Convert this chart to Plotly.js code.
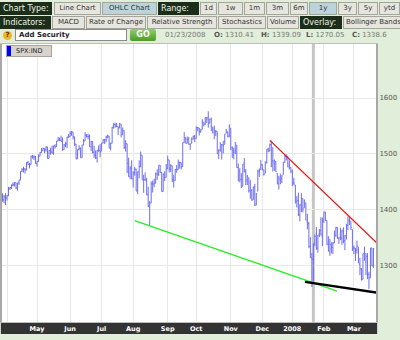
<!DOCTYPE html>
<html><head><meta charset="utf-8">
<script src="https://cdn.plot.ly/plotly-3.0.1.min.js"></script>
<style>
body{margin:0;width:400px;height:340px;overflow:hidden;position:relative;background:#e1eed9;font-family:'DejaVu Sans',sans-serif}
#chart{position:absolute;left:0;top:0;width:400px;height:340px}
.lab{position:absolute;height:13px;line-height:13px;background:#1c2e1a;color:#eef4e6;font-size:8px;padding-left:3px;box-sizing:border-box;white-space:nowrap;overflow:hidden}
.btn{position:absolute;height:13px;line-height:11px;background:#e6e6df;border:1px solid #a4a49c;color:#333;font-size:7px;text-align:center;box-sizing:border-box;white-space:nowrap;overflow:hidden}
.sel{background:#bcd3da}
.r1{top:2px}.r2{top:16px}
.info{position:absolute;top:31px;font-size:7px;color:#777;white-space:nowrap}
.info b{color:#555}
</style></head>
<body>
<div id="chart"></div>
<div class="lab r1" style="left:0;width:52px">Chart Type:</div>
<div class="btn r1" style="left:54px;width:47px">Line Chart</div>
<div class="btn r1 sel" style="left:102px;width:55px">OHLC Chart</div>
<div class="lab r1" style="left:158px;width:41px">Range:</div>
<div class="btn r1" style="left:200px;width:17px">1d</div>
<div class="btn r1" style="left:218px;width:25px">1w</div>
<div class="btn r1" style="left:244px;width:21px">1m</div>
<div class="btn r1" style="left:266px;width:23px">3m</div>
<div class="btn r1" style="left:290px;width:18px">6m</div>
<div class="btn r1 sel" style="left:309px;width:28px">1y</div>
<div class="btn r1" style="left:338px;width:19px">3y</div>
<div class="btn r1" style="left:358px;width:20px">5y</div>
<div class="btn r1" style="left:379px;width:21px">ytd</div>
<div class="lab r2" style="left:0;width:51px">Indicators:</div>
<div class="btn r2" style="left:52px;width:33px">MACD</div>
<div class="btn r2" style="left:86px;width:60px">Rate of Change</div>
<div class="btn r2" style="left:147px;width:70px">Relative Strength</div>
<div class="btn r2" style="left:218px;width:48px">Stochastics</div>
<div class="btn r2" style="left:267px;width:32px">Volume</div>
<div class="lab r2" style="left:300px;width:42px">Overlay:</div>
<div class="btn r2" style="left:343px;width:62px;text-align:left;padding-left:2px">Bollinger Bands</div>
<div style="position:absolute;left:3px;top:31px;width:9px;height:9px;border-radius:50%;background:#f0b428;color:#553300;font-size:7px;font-weight:bold;line-height:9px;text-align:center">?</div>
<div style="position:absolute;left:15px;top:29px;width:112px;height:12px;background:#fff;border:1px solid #8c8c8c;box-sizing:border-box;font-size:7px;font-weight:bold;color:#222;line-height:10px;padding-left:3px">Add Security</div>
<div style="position:absolute;left:130px;top:29px;width:26px;height:12px;background:linear-gradient(#8fd066,#4c9a2c);border-radius:2px;color:#fff;font-size:8px;font-weight:bold;line-height:12px;text-align:center">GO</div>
<div class="info" style="left:165px">01/23/2008</div>
<div class="info" style="left:214px"><b>O:</b> 1310.41</div>
<div class="info" style="left:261px"><b>H:</b> 1339.09</div>
<div class="info" style="left:306px"><b>L:</b> 1270.05</div>
<div class="info" style="left:352px"><b>C:</b> 1338.6</div>
<div style="position:absolute;left:6px;top:45px;width:46px;height:12px;background:#d8d4cc;border:1px solid #a8a49c;box-sizing:border-box"></div>
<div style="position:absolute;left:7px;top:46px;width:4px;height:10px;background:#0000ff"></div>
<div style="position:absolute;left:16px;top:47px;font-size:6.5px;color:#222;line-height:8px">SPX:IND</div>
<script>
const dates = [
"2007-03-27","2007-03-28","2007-03-29","2007-03-30",
"2007-04-02","2007-04-03","2007-04-04","2007-04-05","2007-04-09","2007-04-10","2007-04-11","2007-04-12","2007-04-13","2007-04-16","2007-04-17","2007-04-18","2007-04-19","2007-04-20","2007-04-23","2007-04-24","2007-04-25","2007-04-26","2007-04-27","2007-04-30",
"2007-05-01","2007-05-02","2007-05-03","2007-05-04","2007-05-07","2007-05-08","2007-05-09","2007-05-10","2007-05-11","2007-05-14","2007-05-15","2007-05-16","2007-05-17","2007-05-18","2007-05-21","2007-05-22","2007-05-23","2007-05-24","2007-05-25","2007-05-29","2007-05-30","2007-05-31",
"2007-06-01","2007-06-04","2007-06-05","2007-06-06","2007-06-07","2007-06-08","2007-06-11","2007-06-12","2007-06-13","2007-06-14","2007-06-15","2007-06-18","2007-06-19","2007-06-20","2007-06-21","2007-06-22","2007-06-25","2007-06-26","2007-06-27","2007-06-28","2007-06-29",
"2007-07-02","2007-07-03","2007-07-05","2007-07-06","2007-07-09","2007-07-10","2007-07-11","2007-07-12","2007-07-13","2007-07-16","2007-07-17","2007-07-18","2007-07-19","2007-07-20","2007-07-23","2007-07-24","2007-07-25","2007-07-26","2007-07-27","2007-07-30","2007-07-31",
"2007-08-01","2007-08-02","2007-08-03","2007-08-06","2007-08-07","2007-08-08","2007-08-09","2007-08-10","2007-08-13","2007-08-14","2007-08-15","2007-08-16","2007-08-17","2007-08-20","2007-08-21","2007-08-22","2007-08-23","2007-08-24","2007-08-27","2007-08-28","2007-08-29","2007-08-30","2007-08-31",
"2007-09-04","2007-09-05","2007-09-06","2007-09-07","2007-09-10","2007-09-11","2007-09-12","2007-09-13","2007-09-14","2007-09-17","2007-09-18","2007-09-19","2007-09-20","2007-09-21","2007-09-24","2007-09-25","2007-09-26","2007-09-27","2007-09-28",
"2007-10-01","2007-10-02","2007-10-03","2007-10-04","2007-10-05","2007-10-08","2007-10-09","2007-10-10","2007-10-11","2007-10-12","2007-10-15","2007-10-16","2007-10-17","2007-10-18","2007-10-19","2007-10-22","2007-10-23","2007-10-24","2007-10-25","2007-10-26","2007-10-29","2007-10-30","2007-10-31",
"2007-11-01","2007-11-02","2007-11-05","2007-11-06","2007-11-07","2007-11-08","2007-11-09","2007-11-12","2007-11-13","2007-11-14","2007-11-15","2007-11-16","2007-11-19","2007-11-20","2007-11-21","2007-11-23","2007-11-26","2007-11-27","2007-11-28","2007-11-29","2007-11-30",
"2007-12-03","2007-12-04","2007-12-05","2007-12-06","2007-12-07","2007-12-10","2007-12-11","2007-12-12","2007-12-13","2007-12-14","2007-12-17","2007-12-18","2007-12-19","2007-12-20","2007-12-21","2007-12-24","2007-12-26","2007-12-27","2007-12-28","2007-12-31",
"2008-01-02","2008-01-03","2008-01-04","2008-01-07","2008-01-08","2008-01-09","2008-01-10","2008-01-11","2008-01-14","2008-01-15","2008-01-16","2008-01-17","2008-01-18","2008-01-22","2008-01-23","2008-01-24","2008-01-25","2008-01-28","2008-01-29","2008-01-30","2008-01-31",
"2008-02-01","2008-02-04","2008-02-05","2008-02-06","2008-02-07","2008-02-08","2008-02-11","2008-02-12","2008-02-13","2008-02-14","2008-02-15","2008-02-19","2008-02-20","2008-02-21","2008-02-22","2008-02-25","2008-02-26","2008-02-27","2008-02-28","2008-02-29",
"2008-03-03","2008-03-04","2008-03-05","2008-03-06","2008-03-07","2008-03-10","2008-03-11","2008-03-12","2008-03-13","2008-03-14","2008-03-17","2008-03-18","2008-03-19","2008-03-20"
];
const open = [
1437.5,1428.8,1417.2,1422.5,
1420.8,1424.3,1437.8,1439.4,1443.8,1444.6,1448.2,1438.9,1447.8,1452.8,1468.5,1471.5,1472.5,1470.7,1484.3,1480.9,1480.3,1495.4,1494.2,1494.1,
1482.4,1486.1,1495.6,1502.3,1505.6,1509.4,1507.3,1512.3,1491.5,1505.8,1503.1,1501.2,1514.0,1512.7,1522.8,1525.1,1524.1,1522.1,1507.5,1515.6,1517.6,1530.2,
1530.6,1536.3,1539.1,1530.6,1517.4,1490.7,1507.6,1509.1,1492.7,1515.6,1522.9,1532.9,1531.0,1531.0,1512.5,1522.2,1502.6,1497.7,1492.6,1506.3,1505.7,
1504.7,1519.1,1524.9,1524.9,1530.4,1531.9,1510.1,1518.7,1547.7,1552.5,1549.5,1549.2,1546.1,1553.2,1534.1,1541.6,1511.0,1518.1,1482.4,1458.9,1474.0,
1455.2,1465.5,1472.2,1433.0,1467.6,1476.2,1497.2,1453.1,1453.4,1452.9,1426.2,1406.6,1411.3,1445.9,1445.6,1447.0,1464.0,1462.3,1479.4,1466.7,1432.0,1463.7,1457.6,
1474.0,1488.8,1472.0,1478.6,1453.5,1451.7,1471.1,1471.5,1483.9,1484.2,1476.6,1519.8,1528.7,1518.8,1525.8,1516.3,1518.6,1527.3,1531.2,
1527.3,1546.9,1545.8,1539.9,1543.8,1556.5,1553.2,1565.0,1564.7,1555.4,1562.3,1547.8,1544.4,1539.3,1540.0,1497.8,1506.3,1516.6,1516.2,1522.2,1536.9,1539.4,1532.2,
1545.8,1511.1,1505.6,1505.3,1515.5,1475.3,1467.6,1453.7,1441.4,1483.4,1468.0,1453.1,1456.7,1434.5,1434.7,1417.6,1440.7,1409.6,1432.9,1467.4,1471.8,
1479.6,1471.3,1465.2,1484.6,1508.6,1505.1,1516.7,1487.6,1483.3,1486.2,1465.0,1445.9,1454.7,1456.4,1463.2,1484.6,1495.1,1495.0,1479.8,1475.3,
1468.0,1447.6,1444.0,1414.1,1415.7,1390.3,1406.8,1419.9,1402.9,1411.9,1377.4,1374.8,1333.9,1312.9,1310.4,1340.1,1357.3,1330.7,1355.9,1362.2,1352.0,
1378.6,1395.4,1380.3,1339.5,1324.0,1336.9,1331.9,1340.6,1353.1,1367.3,1347.5,1355.9,1348.4,1362.2,1344.2,1352.8,1371.8,1378.9,1378.2,1364.1,
1330.5,1329.6,1327.0,1332.2,1301.5,1293.2,1274.4,1321.1,1305.3,1316.1,1283.4,1277.2,1331.0,1299.7
];
const high = [
1437.5,1428.8,1426.0,1429.0,
1425.5,1440.6,1440.2,1444.9,1449.0,1448.7,1448.4,1448.0,1453.1,1468.6,1474.4,1476.6,1474.2,1484.7,1487.3,1483.8,1496.6,1498.0,1497.3,1495.7,
1487.3,1499.1,1503.3,1510.3,1511.0,1509.4,1513.8,1512.3,1506.2,1510.9,1514.8,1514.2,1517.1,1522.8,1529.9,1529.2,1532.4,1529.3,1517.4,1521.8,1530.2,1535.6,
1540.6,1540.5,1539.1,1530.6,1517.4,1507.8,1515.5,1511.3,1515.9,1526.5,1538.7,1535.4,1535.9,1534.5,1522.9,1522.2,1514.3,1506.1,1506.8,1514.8,1517.5,
1519.5,1526.0,1526.6,1532.4,1534.3,1531.9,1519.9,1547.9,1555.1,1555.9,1555.3,1549.2,1555.2,1553.2,1547.2,1541.6,1524.3,1518.1,1492.9,1477.9,1488.3,
1468.4,1476.4,1473.2,1467.7,1488.3,1503.9,1497.2,1462.0,1466.3,1456.7,1440.8,1415.1,1450.3,1451.8,1455.3,1466.3,1472.1,1479.4,1479.4,1466.7,1464.2,1468.4,1481.5,
1496.4,1488.8,1481.5,1478.6,1462.3,1472.5,1479.5,1489.6,1485.9,1484.2,1519.9,1538.7,1529.1,1530.9,1530.2,1518.3,1529.4,1532.5,1533.7,
1549.0,1548.0,1546.3,1544.0,1561.9,1556.5,1565.3,1565.4,1576.1,1563.0,1564.7,1547.8,1550.7,1542.8,1540.0,1508.1,1520.0,1517.2,1523.2,1535.5,1544.7,1539.4,1552.8,
1545.8,1513.2,1510.8,1520.8,1515.5,1482.5,1474.1,1464.9,1481.4,1492.1,1472.7,1462.2,1456.7,1452.6,1436.4,1440.9,1446.1,1429.5,1471.6,1473.8,1488.9,
1481.2,1471.3,1486.1,1508.0,1510.6,1518.3,1523.6,1512.0,1489.4,1486.7,1465.0,1460.2,1464.4,1461.5,1485.4,1497.6,1498.9,1495.0,1488.0,1475.8,
1471.8,1456.8,1444.0,1423.9,1430.3,1409.2,1429.1,1419.9,1417.9,1411.9,1392.0,1377.7,1350.3,1322.1,1339.1,1355.2,1368.6,1354.0,1364.9,1385.9,1385.6,
1396.0,1395.4,1380.3,1352.0,1347.2,1341.2,1341.4,1362.1,1369.2,1368.2,1350.0,1367.3,1363.7,1367.9,1354.3,1374.4,1387.3,1388.3,1378.2,1364.1,
1335.1,1331.0,1344.2,1332.2,1313.2,1295.0,1320.7,1333.3,1321.7,1321.5,1287.5,1330.7,1331.0,1330.7
];
const low = [
1425.5,1414.0,1411.0,1408.0,
1416.0,1424.3,1435.0,1436.7,1441.4,1441.4,1436.2,1433.9,1444.1,1452.8,1467.2,1466.4,1464.5,1470.7,1480.2,1473.7,1480.3,1491.4,1488.7,1482.3,
1476.7,1486.1,1495.6,1501.8,1505.5,1500.7,1503.8,1491.4,1491.5,1498.3,1500.4,1498.2,1509.3,1512.7,1522.7,1522.6,1521.9,1505.2,1507.5,1512.0,1510.1,1528.3,
1530.6,1532.3,1525.6,1514.1,1490.4,1490.7,1505.9,1492.9,1492.7,1515.6,1522.9,1529.3,1525.7,1512.3,1504.8,1500.7,1492.7,1490.5,1484.2,1503.4,1493.6,
1504.7,1519.1,1517.5,1520.5,1527.5,1510.0,1506.1,1518.7,1544.9,1546.7,1547.7,1533.7,1546.1,1529.2,1534.1,1508.6,1503.7,1465.3,1458.8,1454.3,1454.3,
1439.6,1460.6,1432.8,1427.4,1455.8,1476.2,1453.1,1429.7,1451.5,1425.5,1404.4,1370.6,1411.3,1430.5,1439.8,1447.0,1453.0,1460.3,1465.9,1432.0,1432.0,1451.3,1457.6,
1472.2,1466.3,1467.4,1449.1,1439.3,1451.7,1465.8,1471.5,1473.2,1471.8,1476.6,1519.8,1518.3,1518.8,1516.2,1507.1,1518.6,1525.8,1521.0,
1527.3,1540.4,1532.8,1537.6,1543.8,1549.0,1551.8,1555.5,1546.7,1554.1,1540.8,1536.3,1526.0,1531.8,1500.3,1490.4,1503.6,1489.6,1500.5,1516.0,1536.9,1529.6,1529.4,
1506.7,1492.5,1489.9,1499.1,1475.0,1450.3,1448.5,1438.5,1441.4,1466.5,1443.5,1443.9,1430.4,1419.3,1415.6,1417.6,1406.1,1407.4,1432.9,1458.4,1470.9,
1470.1,1460.7,1465.2,1482.2,1502.7,1504.7,1475.9,1468.2,1469.2,1467.8,1445.4,1435.7,1445.3,1447.5,1463.2,1484.6,1488.2,1475.9,1471.7,1465.1,
1442.1,1443.7,1411.2,1403.5,1388.3,1378.7,1395.3,1394.8,1402.9,1380.6,1364.3,1330.7,1312.5,1261.0,1270.1,1334.3,1327.5,1322.3,1350.3,1353.0,1334.1,
1375.9,1379.7,1336.6,1324.3,1316.8,1321.1,1320.3,1339.4,1350.8,1347.3,1338.1,1344.9,1336.6,1339.3,1327.0,1346.0,1363.3,1372.0,1363.2,1325.4,
1320.0,1307.4,1320.7,1303.4,1282.4,1272.7,1274.4,1307.9,1282.1,1274.9,1257.0,1277.2,1298.4,1295.2
];
const close = [
1428.8,1417.2,1422.5,1420.9,
1424.6,1437.8,1439.4,1443.8,1444.6,1448.4,1438.9,1447.8,1452.9,1468.3,1471.5,1472.5,1470.7,1484.4,1480.9,1480.4,1495.4,1494.3,1494.1,1482.4,
1486.3,1495.9,1502.4,1505.6,1509.5,1507.7,1512.6,1491.5,1505.9,1503.2,1501.2,1514.1,1512.8,1522.8,1525.1,1524.1,1522.3,1507.5,1515.7,1518.1,1530.2,1530.6,
1536.3,1539.2,1530.9,1517.4,1490.7,1507.7,1509.1,1493.0,1515.7,1523.0,1532.9,1531.1,1531.0,1512.8,1522.2,1502.6,1497.7,1492.9,1506.3,1505.7,1503.4,
1519.4,1524.9,1525.4,1530.4,1531.9,1510.1,1518.8,1547.7,1552.5,1549.5,1549.4,1546.2,1553.1,1534.1,1541.6,1511.0,1518.1,1482.7,1458.9,1473.9,1455.3,
1465.8,1472.2,1433.1,1467.7,1476.7,1497.5,1453.1,1453.6,1452.9,1426.5,1406.7,1411.3,1445.9,1445.6,1447.1,1464.1,1462.5,1479.4,1466.8,1432.4,1463.8,1457.6,1474.0,
1489.4,1472.3,1478.6,1453.6,1451.7,1471.5,1471.6,1484.0,1484.3,1476.7,1519.8,1529.0,1518.8,1525.8,1517.7,1517.2,1525.4,1531.4,1526.8,
1547.0,1546.6,1539.6,1542.8,1557.6,1552.6,1565.2,1562.5,1554.4,1561.8,1548.7,1538.5,1541.2,1540.1,1500.6,1506.3,1519.6,1515.9,1514.4,1535.3,1541.0,1531.0,1549.4,
1508.4,1509.7,1502.2,1520.3,1475.6,1474.8,1453.7,1439.2,1481.1,1470.6,1451.2,1458.7,1433.3,1439.7,1416.8,1440.7,1407.2,1428.2,1469.0,1469.7,1481.1,
1472.4,1462.8,1485.0,1507.3,1504.7,1516.0,1477.7,1486.6,1488.4,1468.0,1445.9,1455.0,1453.0,1460.1,1484.5,1496.5,1497.7,1476.3,1478.5,1468.4,
1447.2,1447.2,1411.6,1416.2,1390.2,1409.1,1420.3,1401.0,1416.3,1381.0,1373.2,1333.3,1325.2,1310.5,1338.6,1352.1,1330.6,1354.0,1362.3,1355.8,1378.6,
1395.4,1380.8,1336.6,1326.5,1336.9,1331.3,1339.1,1348.9,1367.2,1348.9,1350.0,1348.8,1360.0,1342.5,1353.1,1371.8,1381.3,1380.0,1367.7,1330.6,
1331.3,1326.8,1333.7,1304.3,1293.4,1273.4,1320.7,1308.8,1315.5,1288.1,1276.6,1330.7,1298.4,1329.5
];
const holidays = ["2007-04-06","2007-05-28","2007-07-04","2007-09-03","2007-11-22","2007-12-25","2008-01-01","2008-01-21","2008-02-18","2008-03-21"];
const monthStarts = ["2007-04-02","2007-05-01","2007-06-01","2007-07-02","2007-08-01","2007-09-04","2007-10-01","2007-11-01","2007-12-03","2008-01-02","2008-02-01","2008-03-03"];
const monthLabels = ["","May","Jun","Jul","Aug","Sep","Oct","Nov","Dec","2008","Feb","Mar"];
const yTicks = [1300,1400,1500,1600];
// drawn trend lines (date, value)
const redX = ["2007-12-10","2008-03-25 07:00"], redY = [1524,1340];
const greenX = ["2007-08-02","2008-02-13 18:00"], greenY = [1380,1253.5];
const blackX = ["2008-01-14 10:00","2008-03-26 16:00"], blackY = [1270,1250];
const cursorDate = "2008-01-23";

const traces = [
 {type:'ohlc', x:dates, open:open, high:high, low:low, close:close,
  increasing:{line:{color:'#6c6cf2', width:1}}, decreasing:{line:{color:'#6c6cf2', width:1}},
  tickwidth:0.5, hoverinfo:'skip'},
 {type:'scatter', mode:'lines', x:greenX, y:greenY, line:{color:'#22ee22', width:1.3}, hoverinfo:'skip'},
 {type:'scatter', mode:'lines', x:redX, y:redY, line:{color:'#ee1111', width:1.3}, hoverinfo:'skip'},
 {type:'scatter', mode:'lines', x:blackX, y:blackY, line:{color:'#000', width:2.4}, hoverinfo:'skip'}
];
const layout = {
 width:400, height:340, showlegend:false,
 margin:{l:2, r:24, t:44, b:18},
 paper_bgcolor:'rgba(0,0,0,0)', plot_bgcolor:'#fff',
 xaxis:{type:'date', range:['2007-03-27 16:00','2008-03-24 16:48'],
  rangebreaks:[{bounds:['sat','mon']},{values:holidays}],
  rangeslider:{visible:false}, tickvals:monthStarts, ticktext:monthLabels,
  tickfont:{family:'DejaVu Sans', size:6.5, color:'#fff', weight:'bold'},
  ticks:'', showgrid:true, gridcolor:'#e8e8e8', gridwidth:1,
  showline:true, mirror:true, linecolor:'#bdbdbd', linewidth:1, zeroline:false, fixedrange:true},
 yaxis:{side:'right', range:[1198,1697], tickvals:yTicks,
  tickfont:{family:'DejaVu Sans', size:7, color:'#555'},
  ticks:'', showgrid:true, gridcolor:'#e8e8e8', gridwidth:1,
  showline:true, mirror:true, linecolor:'#a8a8a8', linewidth:2, zeroline:false, fixedrange:true},
 shapes:[
  {type:'rect', xref:'paper', yref:'paper', x0:-0.003, x1:1.003, y0:-0.0432, y1:-0.0036, fillcolor:'#333', line:{width:0}, layer:'below'},
  {type:'line', xref:'x', yref:'paper', x0:cursorDate, x1:cursorDate, y0:0, y1:1, line:{color:'#c6c6c6', width:3}, layer:'below'}
 ]
};
Plotly.newPlot('chart', traces, layout, {staticPlot:true, displayModeBar:false});
</script>
</body></html>
